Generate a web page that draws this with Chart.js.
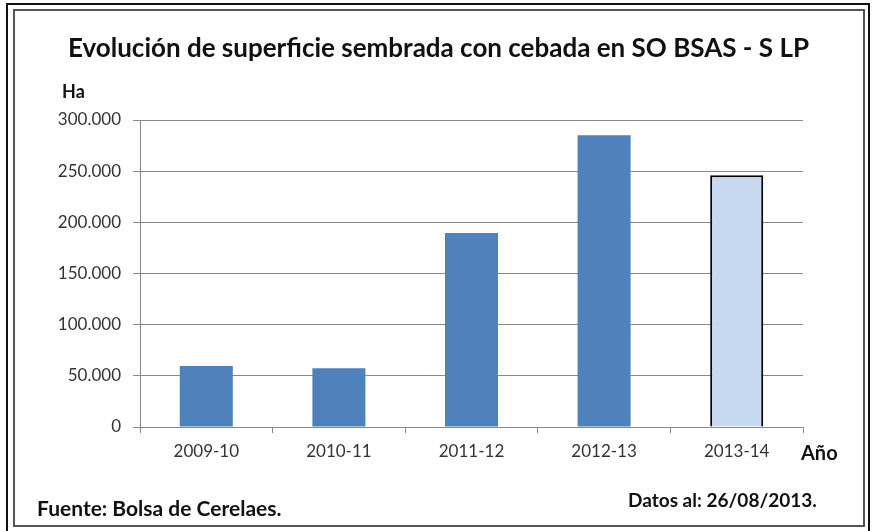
<!DOCTYPE html>
<html>
<head>
<meta charset="utf-8">
<script src="https://cdn.jsdelivr.net/npm/chart.js@4"></script>
<style>
  body { margin: 0; background: #fff; }
  #wrap { position: relative; width: 877px; height: 531px; font-family: Lato, "Open Sans", sans-serif; }
  #marco1 { position: absolute; left: 6px; top: 3px; width: 864px; height: 530px; border: 2px solid #111; box-sizing: border-box; }
  #marco2 { position: absolute; left: 13px; top: 9px; width: 852px; height: 518px; border: 2px solid #555; box-sizing: border-box; }
  canvas { position: absolute; left: 0; top: 0; }
  .txt { position: absolute; white-space: nowrap; color: #111; font-weight: bold; line-height: 1.2; }
  #titulo { left: 0; width: 877px; top: 32px; text-align: center; font-size: 26px; }
  #ha { left: 62px; top: 81px; font-size: 18px; }
  #anio { left: 801px; top: 440px; font-size: 20px; }
  #fuente { left: 37px; top: 495px; font-size: 21px; }
  #datos { left: 628px; top: 489px; font-size: 19px; }
</style>
</head>
<body>
<div id="wrap">
  <div id="marco1"></div>
  <div id="marco2"></div>
  <canvas id="grafico" width="877" height="531"></canvas>
  <div class="txt" id="titulo">Evolución de superficie sembrada con cebada en SO BSAS - S LP</div>
  <div class="txt" id="ha">Ha</div>
  <div class="txt" id="anio">Año</div>
  <div class="txt" id="fuente">Fuente: Bolsa de Cerelaes.</div>
  <div class="txt" id="datos">Datos al: 26/08/2013.</div>
</div>
<script>
// datos
const campanas = ['2009-10', '2010-11', '2011-12', '2012-13', '2013-14'];
const hectareas = [59500, 57500, 189500, 285000, 246000];
const coloresBarra = ['#4F81BD', '#4F81BD', '#4F81BD', '#4F81BD', '#C6D9F1'];
const bordesBarra = [0, 0, 0, 0, 2];

const ctx = document.getElementById('grafico');

new Chart(ctx, {
    type: 'bar',
    data: {
        labels: campanas,
        datasets: [{
            data: hectareas,
            backgroundColor: coloresBarra,
            borderColor: '#000',
            borderWidth: bordesBarra,
            borderSkipped: 'bottom',
            categoryPercentage: 0.8,
            barPercentage: 0.5
        }]
    },
    options: {
        responsive: false,
        animation: false,
        layout: { padding: { left: 0, right: 74, top: 120, bottom: 69 } },
        plugins: { legend: { display: false }, tooltip: { enabled: false } },
        scales: {
            x: {
                grid: { drawOnChartArea: false, drawTicks: true, tickLength: 6, offset: true, color: '#888' },
                border: { color: '#888' },
                ticks: { color: '#333', font: { family: 'Lato', size: 17 }, padding: 8 },
                afterFit: (s) => { s.height = 35; }
            },
            y: {
                min: 0,
                max: 300000,
                grid: { color: '#888', tickLength: 7 },
                border: { color: '#888' },
                ticks: {
                    stepSize: 50000,
                    color: '#333',
                    font: { family: 'Lato', size: 17 },
                    padding: 12,
                    callback: (v) => v.toLocaleString('de-DE')
                },
                afterFit: (s) => { s.width = 140; }
            }
        }
    }
});
</script>
</body>
</html>
